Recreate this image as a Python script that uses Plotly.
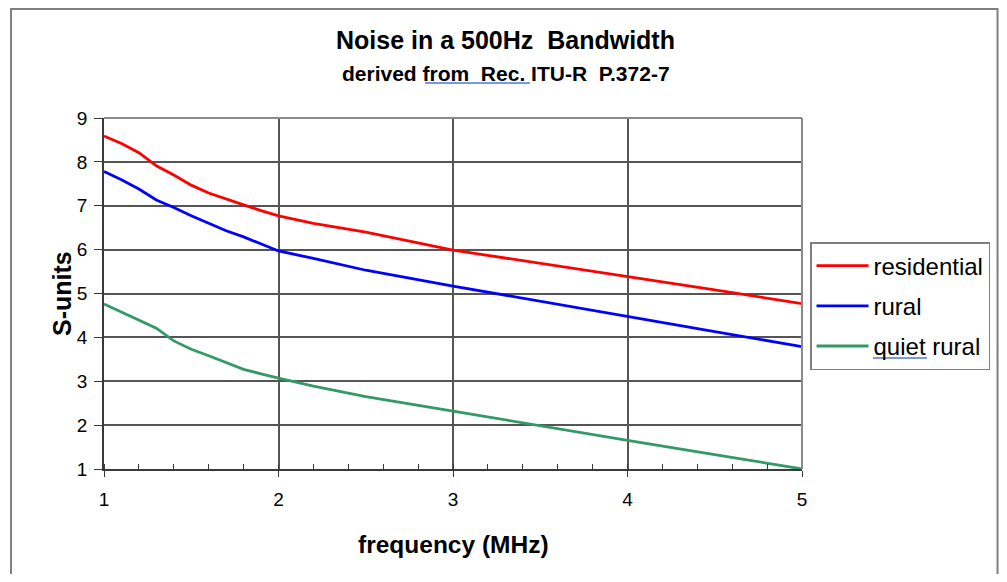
import plotly.graph_objects as go

# ---- data ----
freq_mhz = [1.0, 1.1, 1.2, 1.3, 1.4, 1.5, 1.6, 1.7, 1.8, 1.9, 2.0, 2.2, 2.5, 3.0, 3.5, 4.0, 4.5, 5.0]
residential = [8.59, 8.42, 8.21, 7.91, 7.70, 7.47, 7.29, 7.15, 7.02, 6.89, 6.77, 6.60, 6.40, 5.99, 5.69, 5.38, 5.08, 4.77]
rural = [7.78, 7.59, 7.38, 7.13, 6.96, 6.77, 6.60, 6.43, 6.29, 6.13, 5.97, 5.80, 5.53, 5.17, 4.82, 4.47, 4.13, 3.79]
quiet_rural = [4.76, 4.58, 4.40, 4.21, 3.92, 3.73, 3.58, 3.42, 3.27, 3.17, 3.07, 2.89, 2.65, 2.32, 1.98, 1.65, 1.33, 1.00]

series_names = ["residential", "rural", "quiet rural"]
series_values = [residential, rural, quiet_rural]
series_colors = ["#FF0000", "#0000FF", "#339966"]

x_ticks = [1, 2, 3, 4, 5]
y_ticks = [1, 2, 3, 4, 5, 6, 7, 8, 9]

title_text = "Noise in a 500Hz\u00a0 Bandwidth"
subtitle_text = "derived from\u00a0 Rec. ITU-R\u00a0 P.372-7"
x_title = "frequency (MHz)"
y_title = "S-units"

FONT = "Liberation Sans, Arial, sans-serif"
GRID = "#555555"
AXIS = "#3a3a3a"
FRAME = "#8a8a8a"

fig = go.Figure()
for i, (name, vals, col) in enumerate(zip(series_names, series_values, series_colors)):
    fig.add_trace(go.Scatter(
        x=freq_mhz, y=vals, name=name, mode="lines",
        line=dict(color=col, width=2.8),
        legendgroup=f"g{i}",
    ))

# the page body has an 8px margin; size the figure so no scrollbars appear
fig.update_layout(
    width=991, height=566,
    margin=dict(l=96, r=197, t=110, b=105, autoexpand=False),
    paper_bgcolor="white", plot_bgcolor="white",
    font=dict(family=FONT, color="black"),
    showlegend=True,
    legend=dict(
        x=1.0115, y=0.6467, xanchor="left", yanchor="top",
        bordercolor="#7f7f7f", borderwidth=1.5,
        bgcolor="rgba(0,0,0,0)",
        font=dict(size=24, family=FONT, color="black"),
        tracegroupgap=6,
        traceorder="grouped",
        itemwidth=52,
    ),
)

fig.update_xaxes(
    range=[1, 5], tickvals=x_ticks, ticktext=[str(v) for v in x_ticks],
    showgrid=True, gridcolor=GRID, gridwidth=1.7,
    showline=True, linecolor=AXIS, linewidth=1.8,
    ticks="outside", ticklen=6, tickcolor=AXIS, tickwidth=1.3,
    tickfont=dict(size=19, family=FONT, color="black"),
    ticklabelstandoff=6,
    minor=dict(dtick=0.2, ticks="inside", ticklen=5, tickcolor=AXIS, tickwidth=1.2, showgrid=False),
    zeroline=False, fixedrange=True,
)
fig.update_yaxes(
    range=[1, 9], tickvals=y_ticks, ticktext=[str(v) for v in y_ticks],
    showgrid=True, gridcolor=GRID, gridwidth=1.7,
    showline=True, linecolor=AXIS, linewidth=1.8,
    ticks="outside", ticklen=8, tickcolor=AXIS, tickwidth=1.3,
    tickfont=dict(size=19, family=FONT, color="black"),
    ticklabelstandoff=3,
    zeroline=False, fixedrange=True,
)

annotations = [
    dict(text=f"<b>{title_text}</b>", x=0.5759, y=1.2222, xref="paper", yref="paper",
         xanchor="center", yanchor="middle", showarrow=False,
         font=dict(size=25, family=FONT, color="black")),
    dict(text=f"<b>{subtitle_text}</b>", x=0.5759, y=1.1282, xref="paper", yref="paper",
         xanchor="center", yanchor="middle", showarrow=False,
         font=dict(size=21, family=FONT, color="black")),
    dict(text=f"<b>{x_title}</b>", x=0.5, y=-0.2165, xref="paper", yref="paper",
         xanchor="center", yanchor="middle", showarrow=False,
         font=dict(size=24.5, family=FONT, color="black")),
    dict(text=f"<b>{y_title}</b>", x=-0.0602, y=0.5014, xref="paper", yref="paper",
         xanchor="center", yanchor="middle", showarrow=False, textangle=-90,
         font=dict(size=25, family=FONT, color="black")),
]
fig.update_layout(annotations=annotations)

shapes = [
    # outer chart border
    dict(type="rect", xref="paper", yref="paper", x0=-0.1332, x1=1.2801, y0=-0.35, y1=1.3105,
         line=dict(color="#7f7f7f", width=2), fillcolor="rgba(0,0,0,0)", layer="below"),
    # plot-area frame (top and right edges)
    dict(type="line", xref="paper", yref="paper", x0=0, x1=1, y0=1, y1=1,
         line=dict(color=FRAME, width=2)),
    dict(type="line", xref="paper", yref="paper", x0=1, x1=1, y0=0, y1=1,
         line=dict(color=FRAME, width=2)),
    # spell-check underlines
    dict(type="line", xref="paper", yref="paper", x0=0.4599, x1=0.6103, y0=1.0997, y1=1.0997,
         line=dict(color="#4a78d6", width=1.5)),
    dict(type="line", xref="paper", yref="paper", x0=1.1017, x1=1.1791, y0=0.3162, y1=0.3162,
         line=dict(color="#4a78d6", width=1.5)),
]
fig.update_layout(shapes=shapes)

fig.write_html("out.html")
